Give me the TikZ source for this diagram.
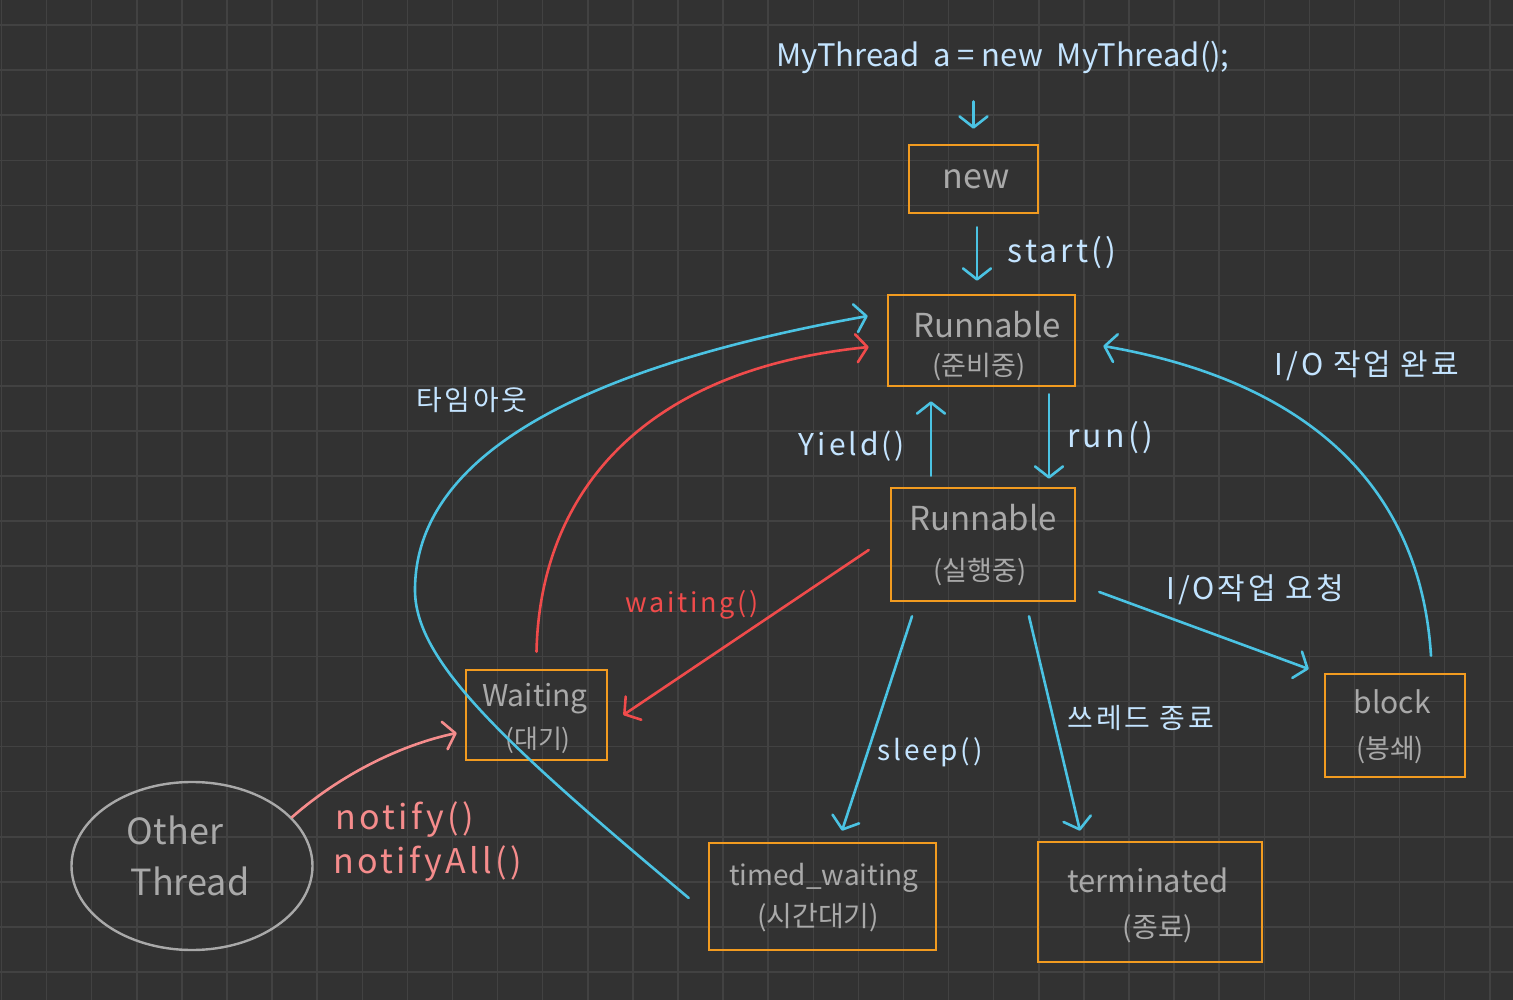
\documentclass[tikz,border=0pt]{standalone}
\usepackage{fontspec}
\setmainfont{Noto Sans CJK KR}
\newfontfamily\hand[LetterSpace=10]{Noto Sans CJK KR}
\usetikzlibrary{arrows.meta,shapes.geometric}
\definecolor{bgc}{HTML}{323232}
\definecolor{gridc}{HTML}{424242}
\definecolor{orangec}{HTML}{F29B20}
\definecolor{greyc}{HTML}{A9A9A9}
\definecolor{labc}{HTML}{C4E4FF}
\definecolor{cyanc}{HTML}{4BC3E3}
\definecolor{redc}{HTML}{F04B4B}
\definecolor{pinkc}{HTML}{F58C8C}
\tikzset{
  statebox/.style={draw=orangec, line width=2.6pt, inner sep=0pt},
  boxtxt/.style={text=greyc, inner sep=0pt},
  lab/.style={text=labc, inner sep=0pt},
  barb/.style={-{Straight Barb[length=11pt,width=28pt,round]}, line width=2.6pt, line cap=round},
  bluearr/.style={barb, draw=cyanc},
  redarr/.style={barb, draw=redc},
  pinkarr/.style={barb, draw=pinkc},
}
\newcommand{\fs}[1]{\fontsize{#1}{#1}\selectfont}
\begin{document}
\begin{tikzpicture}[x=1pt,y=-1pt]
\fill[bgc] (0,0) rectangle (1513,1000);
\useasboundingbox (0,0) rectangle (1513,1000);
\foreach \i in {0,...,33} \draw[gridc, line width=1.5pt] ({1.5+45.1*\i},0) -- ({1.5+45.1*\i},1000);
\foreach \j in {0,...,21} \draw[gridc, line width=1.5pt] (0,{25+45.1*\j}) -- (1513,{25+45.1*\j});

% state boxes
\node[statebox, minimum width=129pt, minimum height=68pt] (new) at (973.5,179) {};
\node[statebox, minimum width=187pt, minimum height=91pt] (rdy) at (981.5,340.5) {};
\node[statebox, minimum width=184pt, minimum height=113pt] (run) at (983,544.5) {};
\node[statebox, minimum width=141pt, minimum height=90pt] (wait) at (536.5,715) {};
\node[statebox, minimum width=227pt, minimum height=107pt] (timed) at (822.5,896.5) {};
\node[statebox, minimum width=224pt, minimum height=120pt] (term) at (1150,902) {};
\node[statebox, minimum width=140pt, minimum height=103pt] (block) at (1395,725.5) {};
\node[ellipse, draw=greyc, line width=2.4pt, minimum width=241pt, minimum height=168pt, inner sep=0pt] (other) at (192,866) {};

% box texts
\node[boxtxt, font=\fs{34}] (tnew) at (976,179) {new};
\node[boxtxt, font=\fs{33}] (trdy1) at (987,325) {Runnable};
\node[boxtxt, font=\fs{27}] (trdy2) at (979,367) {(준비중)};
\node[boxtxt, font=\fs{33}] (trun1) at (983,518) {Runnable};
\node[boxtxt, font=\fs{27}] (trun2) at (980,572) {(실행중)};
\node[boxtxt, font=\fs{30}] (twait1) at (535,699) {Waiting};
\node[boxtxt, font=\fs{26}] (twait2) at (538,740) {(대기)};
\node[boxtxt, font=\fs{28}] (ttimed1) at (824,878) {timed\_waiting};
\node[boxtxt, font=\fs{28}] (ttimed2) at (818,918) {(시간대기)};
\node[boxtxt, font=\fs{31}] (tterm1) at (1148,880) {terminated};
\node[boxtxt, font=\fs{28}] (tterm2) at (1158,929) {(종료)};
\node[boxtxt, font=\fs{30}] (tblock1) at (1392,702) {block};
\node[boxtxt, font=\fs{27}] (tblock2) at (1390,750) {(봉쇄)};
\node[boxtxt, font=\fs{36}] (tother1) at (175,830) {Other};
\node[boxtxt, font=\fs{36}] (tother2) at (190,881) {Thread};

% top code
\node[lab, font=\fs{31}] (code) at (1003,57) {MyThread\ \ a = new\ \ MyThread();};

% labels
\node[lab, font=\hand\fs{32}] (lstart) at (1062,253) {start()};
\node[lab, font=\hand\fs{30}] (lyield) at (852,446) {Yield()};
\node[lab, font=\hand\fs{32}] (lrun) at (1110,438) {run()};
\node[lab, font=\hand\fs{30}] (ldone) at (1367,366) {I/O 작업 완료};
\node[lab, font=\hand\fs{30}] (lreq) at (1255,590) {I/O작업 요청};
\node[lab, font=\hand\fs{28}] (ltime) at (472,400) {타임아웃};
\node[lab, font=\hand\fs{27}, text=redc] (lwaiting) at (692,605) {waiting()};
\node[lab, font=\hand\fs{28}] (lsleep) at (930,752) {sleep()};
\node[lab, font=\hand\fs{28}] (lend) at (1141,718) {쓰레드 종료};
\node[lab, font=\hand\fs{34}, text=pinkc, anchor=west] (lnotify1) at (335,820) {notify()};
\node[lab, font=\hand\fs{34}, text=pinkc, anchor=west] (lnotify2) at (333,864) {notifyAll()};

% connectors
\draw[bluearr] ([yshift=-28pt]code.south -| new.north) -- ([yshift=15pt]new.north);
\draw[bluearr] ([xshift=3.5pt,yshift=-13pt]new.south) -- ([xshift=-4.5pt,yshift=13pt]rdy.north);
\draw[bluearr] ([xshift=-52pt,yshift=11pt]run.north) -- ([xshift=-50.5pt,yshift=-14pt]rdy.south);
\draw[bluearr] ([xshift=67.5pt,yshift=-7pt]rdy.south) -- ([xshift=66pt,yshift=8pt]run.north);
\draw[bluearr] ([xshift=23pt,yshift=-47.5pt]run.east) -- ([xshift=-15pt,yshift=56.5pt]block.west);
\draw[bluearr] ([xshift=-71pt,yshift=-14pt]run.south) -- ([xshift=19.5pt,yshift=11pt]timed.north);
\draw[bluearr] ([xshift=46pt,yshift=-14pt]run.south) -- ([xshift=-70pt,yshift=10pt]term.north);
\draw[redarr] ([xshift=-21pt,yshift=-5.5pt]run.west) -- ([xshift=15pt]wait.east);
\draw[redarr] ([yshift=17pt]wait.north) .. controls (540,495) and (640,370) .. ([xshift=-18pt,yshift=-6.5pt]rdy.west);
\draw[bluearr] ([xshift=-19pt,yshift=-1.5pt]timed.west) .. controls (500,740) and (415,660) .. (415,590)
   .. controls (415,430) and (650,355) .. ([xshift=-19pt,yshift=24.5pt]rdy.west);
\draw[bluearr] ([xshift=36pt,yshift=17pt]block.north) .. controls (1420,480) and (1300,380) .. ([xshift=27pt,yshift=-5.5pt]rdy.east);
\draw[pinkarr] (other.26) .. controls (340,775) and (400,745) .. ([xshift=-8pt,yshift=-18pt]wait.west);
\end{tikzpicture}
\end{document}
